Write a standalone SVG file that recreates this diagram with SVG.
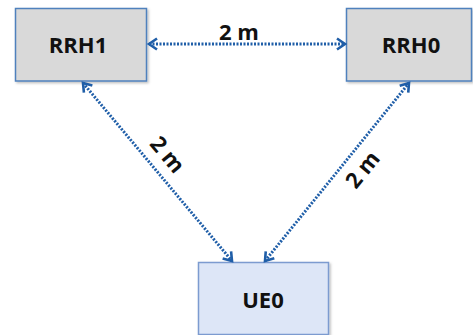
<svg xmlns="http://www.w3.org/2000/svg" width="473" height="335" viewBox="0 0 473 335">
<defs>
<marker id="arr" markerUnits="userSpaceOnUse" markerWidth="16" markerHeight="16" viewBox="-11 -8 13 16" refX="0" refY="0" orient="auto-start-reverse">
<path d="M -8 -5.5 L 0 0 L -8 5.5" fill="none" stroke="#1f5ea8" stroke-width="2.6" stroke-linejoin="miter"/>
</marker>
<filter id="sh" x="-10%" y="-10%" width="130%" height="130%">
<feDropShadow dx="1.5" dy="1.5" stdDeviation="1.2" flood-color="#000" flood-opacity="0.25"/>
</filter>
</defs>
<style>
.box{stroke-width:1.5}
.grey{fill:#d9d9d9;stroke:#4f81bd}
.blue{fill:#dde6f7;stroke:#7b9bd0}
.lbl{font-family:"Open Sans","Liberation Sans",sans-serif;font-weight:bold;font-size:22px;fill:#111;text-anchor:middle}
.dist{font-family:"Open Sans","Liberation Sans",sans-serif;font-weight:bold;font-size:22px;fill:#111;text-anchor:middle}
.conn{fill:none;stroke:#1f5ea8;stroke-width:3;stroke-dasharray:2 1.5;marker-start:url(#arr);marker-end:url(#arr)}
</style>
<rect width="473" height="335" fill="#fff"/>
<g id="RRH1">
<rect class="box grey" x="15.5" y="8.5" width="131" height="72.5" filter="url(#sh)"/>
<text class="lbl" x="78" y="53">RRH1</text>
</g>
<g id="RRH0">
<rect class="box grey" x="346.5" y="8.5" width="125" height="72.5" filter="url(#sh)"/>
<text class="lbl" x="411" y="53">RRH0</text>
</g>
<g id="UE0">
<rect class="box blue" x="198.5" y="262.5" width="130" height="72" filter="url(#sh)"/>
<text class="lbl" x="263" y="308">UE0</text>
</g>
<g id="connectors">
<line class="conn" x1="149" y1="44" x2="345" y2="44"/>
<line class="conn" x1="83" y1="83" x2="232" y2="261"/>
<line class="conn" x1="265" y1="261" x2="409" y2="83"/>
</g>
<g id="labels">
<text class="dist" x="239" y="40">2 m</text>
<text class="dist" transform="translate(167,155) rotate(50)" x="0" y="7">2 m</text>
<text class="dist" transform="translate(363,170) rotate(-51)" x="0" y="7">2 m</text>
</g>
</svg>
